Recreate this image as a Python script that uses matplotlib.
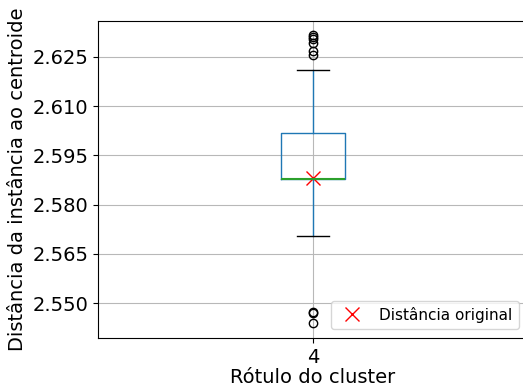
import matplotlib
matplotlib.use("Agg")
import matplotlib.pyplot as plt

# Summary statistics of the distances to the centroid for cluster 4
cluster_label = "4"
q1 = 2.5877
median = 2.5878
q3 = 2.6017
whisker_low = 2.5705
whisker_high = 2.6211
outliers_high = [2.6316, 2.6310, 2.6303, 2.6293, 2.6268, 2.6257]
outliers_low = [2.5474, 2.5470, 2.5439]
original_distance = 2.5880

yticks = [2.550, 2.565, 2.580, 2.595, 2.610, 2.625]

fig = plt.figure(figsize=(5.23, 3.89), dpi=100)
ax = fig.add_axes([98 / 523, 51 / 389, 430 / 523, 317 / 389])

stats = [{
    "med": median, "q1": q1, "q3": q3,
    "whislo": whisker_low, "whishi": whisker_high,
    "fliers": outliers_high + outliers_low,
    "label": cluster_label,
}]
ax.bxp(stats, positions=[1], widths=0.15,
       boxprops=dict(color="#1f77b4"),
       whiskerprops=dict(color="#1f77b4"),
       medianprops=dict(color="#2ca02c", linewidth=1.5),
       capprops=dict(color="black"),
       flierprops=dict(marker="o", markerfacecolor="none",
                       markeredgecolor="black", markersize=6))

ax.plot([1], [original_distance], linestyle="none", marker="x",
        color="red", markersize=10, label="Distância original")

ax.set_xlim(0.5, 1.5)
ax.set_ylim(2.5394, 2.6359)
ax.set_yticks(yticks)
ax.set_yticklabels([f"{v:.3f}" for v in yticks])
ax.grid(True, color="#b8b8b8", linewidth=0.8)
ax.set_axisbelow(True)
ax.tick_params(labelsize=14)
ax.set_xlabel("Rótulo do cluster", fontsize=14, labelpad=1)
ax.set_ylabel("Distância da instância ao centroide", fontsize=14)
ax.legend(loc="lower right", fontsize=11, borderaxespad=0.6)

fig.savefig("out.png", dpi=100)
